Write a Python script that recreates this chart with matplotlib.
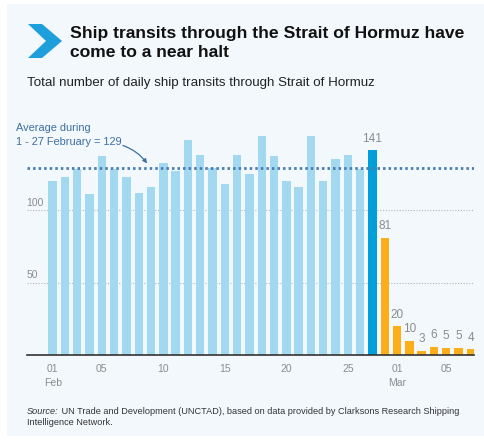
import matplotlib
matplotlib.use("Agg")
import matplotlib.pyplot as plt
from matplotlib.patches import Rectangle, Polygon
import numpy as np

plt.rcParams['font.family'] = ['Liberation Sans', 'DejaVu Sans']

# daily ship transits, 1 Feb - 7 Mar
feb_values = [120, 123, 128, 111, 137, 128, 123, 112, 116, 132, 127, 148, 138, 129,
              118, 138, 125, 151, 137, 120, 116, 151, 120, 135, 138, 128, 141, 81]
mar_values = [20, 10, 3, 6, 5, 5, 4]
values = feb_values + mar_values
avg_feb = 129
tick_idx = [0, 4, 9, 14, 19, 24, 28, 32]
tick_labels = ['01\nFeb', '05', '10', '15', '20', '25', '01\nMar', '05']
labelled_idx = [26, 27, 28, 29, 30, 31, 32, 33, 34]

LIGHT = '#a2d9f1'
DARK = '#009edb'
ORANGE = '#fbae17'
AVG_COL = '#4a7db0'
GREY = '#8c8c8c'
BG = '#f3f8fc'

W, H = 484, 444
fig = plt.figure(figsize=(W / 100, H / 100), dpi=100)


def fx(px):
    return px / W


def fy(py):
    return 1 - py / H


# background panel
fig.patches.append(Rectangle((fx(7), fy(436)), fx(W - 7), (436 - 4) / H,
                             transform=fig.transFigure, facecolor=BG,
                             edgecolor='none', zorder=-10))
# chevron icon
chev = [(28, 24), (42, 24), (62, 41), (42, 58), (28, 58), (46, 41)]
fig.patches.append(Polygon([(fx(a), fy(b)) for a, b in chev], closed=True,
                           transform=fig.transFigure, facecolor='#1c9fdb',
                           edgecolor='none', zorder=-5))

fig.text(fx(70), fy(43), "Ship transits through the Strait of Hormuz have\ncome to a near halt",
         fontsize=12.6, fontweight='bold', color='#111111', va='center', ha='left',
         linespacing=1.35)
fig.text(fx(27), fy(83), "Total number of daily ship transits through Strait of Hormuz",
         fontsize=9.6, color='#222222', va='center', ha='left')

ax = fig.add_axes([fx(26.7), fy(355.3), fx(474.3 - 26.7), (355.3 - 122.8) / H])
ax.set_facecolor('none')

x = np.arange(len(values))
colors = [LIGHT] * 26 + [DARK] + [ORANGE] * (len(values) - 27)
ax.bar(x, values, width=0.68, color=colors, edgecolor='none', zorder=2)

ax.set_xlim(-2.11, 34.28)
ax.set_ylim(0, 160)

for v in [50, 100]:
    ax.axhline(v, color='#b5b5b5', lw=0.8, linestyle=(0, (1, 1.5)), zorder=1)
    ax.text(-2.11, v + 1.5, str(v), fontsize=7.5, color=GREY, ha='left', va='bottom')

ax.axhline(avg_feb, color=AVG_COL, lw=2.0, linestyle=(0, (0.9, 1.1)), zorder=3)

for i in labelled_idx:
    ax.annotate(str(values[i]), (x[i], values[i]), xytext=(0, 4),
                textcoords='offset points', ha='center', va='bottom',
                fontsize=8.5, color=GREY)

ax.text(-3.0, 151.8, "Average during\n1 - 27 February = 129", fontsize=7.9,
        color='#3d6ea3', ha='left', va='center', linespacing=1.45, clip_on=False)
ax.annotate("", xy=(7.8, 130.5), xytext=(5.5, 145.0),
            arrowprops=dict(arrowstyle='-|>', color='#3d6ea3', lw=0.9,
                            mutation_scale=6,
                            connectionstyle='arc3,rad=-0.18'),
            annotation_clip=False)

for s in ['top', 'right', 'left']:
    ax.spines[s].set_visible(False)
ax.spines['bottom'].set_color('#333333')
ax.spines['bottom'].set_linewidth(1.2)
ax.set_yticks([])
ax.set_xticks(tick_idx)
ax.set_xticklabels(tick_labels, fontsize=7.5, color=GREY, linespacing=1.5)
ax.tick_params(axis='x', length=0, pad=6)

# source note: italic "Source:" followed by regular text
src = fig.text(fx(27), fy(414), "Source:", fontsize=6.6, style='italic',
               color='#333333', va='baseline', ha='left')
ax.annotate(" UN Trade and Development (UNCTAD), based on data provided by Clarksons Research Shipping",
            xy=(1, 0), xycoords=src, va='bottom', ha='left',
            fontsize=6.6, color='#333333', annotation_clip=False)
fig.text(fx(27), fy(425), "Intelligence Network.", fontsize=6.6, color='#333333',
         va='baseline', ha='left')

plt.savefig('out.png', dpi=100)
plt.close(fig)
